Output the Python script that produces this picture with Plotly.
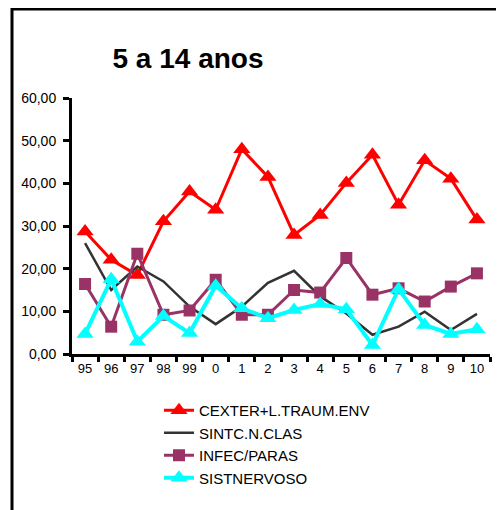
import plotly.graph_objects as go

years = ["95", "96", "97", "98", "99", "0", "1", "2", "3", "4", "5", "6", "7", "8", "9", "10"]
cexter = [28.7, 22.1, 18.5, 31.1, 38.1, 33.8, 48.0, 41.5, 27.9, 32.6, 40.1, 46.7, 35.0, 45.4, 41.1, 31.5]
sintc = [26.0, 15.0, 20.5, 17.0, 11.1, 7.0, 11.1, 16.7, 19.5, 13.5, 9.5, 4.5, 6.4, 9.9, 5.6, 9.4]
infec = [16.4, 6.4, 23.5, 9.2, 10.2, 17.4, 9.2, 9.2, 15.0, 14.4, 22.5, 13.9, 15.4, 12.3, 15.8, 18.9]
sistn = [4.7, 17.5, 2.9, 8.9, 4.9, 16.0, 10.7, 8.4, 10.3, 11.7, 10.5, 2.1, 15.2, 6.8, 4.7, 5.8]
y_ticks = [0, 10, 20, 30, 40, 50, 60]
y_tick_labels = ["0,00", "10,00", "20,00", "30,00", "40,00", "50,00", "60,00"]

# page has an 8px body margin: figure coordinates = screen - 8
W, H = 496, 502
L, R, T, B = 64, 14, 90, 156
PW, PH = W - L - R, H - T - B

fig = go.Figure()
fig.add_trace(go.Scatter(x=years, y=cexter, name="CEXTER+L.TRAUM.ENV", mode="lines+markers",
                         line=dict(color="#FF0000", width=3),
                         marker=dict(symbol="triangle-up", size=15, color="#FF0000")))
fig.add_trace(go.Scatter(x=years, y=sintc, name="SINTC.N.CLAS", mode="lines",
                         line=dict(color="#333333", width=2.5)))
fig.add_trace(go.Scatter(x=years, y=infec, name="INFEC/PARAS", mode="lines+markers",
                         line=dict(color="#993366", width=3),
                         marker=dict(symbol="square", size=12, color="#993366")))
fig.add_trace(go.Scatter(x=years, y=sistn, name="SISTNERVOSO", mode="lines+markers",
                         line=dict(color="#00FFFF", width=4),
                         marker=dict(symbol="triangle-up", size=15, color="#00FFFF")))

fig.update_layout(
    width=W, height=H,
    margin=dict(l=L, r=R, t=T, b=B, autoexpand=False),
    paper_bgcolor="white", plot_bgcolor="white",
    font=dict(family="Liberation Sans", color="black"),
    title=dict(text="<b>5 a 14 anos</b>", x=180 / W, xanchor="center",
               y=1 - 50 / H, yanchor="middle", font=dict(size=28, color="black")),
    showlegend=True,
    legend=dict(x=(151 - L) / PW, y=(T + PH - 386) / PH, xanchor="left", yanchor="top",
                font=dict(size=15, color="black"), bgcolor="rgba(0,0,0,0)",
                tracegroupgap=0),
    xaxis=dict(type="category", range=[-0.5, 15.5], showline=True, linecolor="black", linewidth=3,
               ticks="outside", tickson="boundaries", ticklen=5, tickwidth=3, tickcolor="black",
               showgrid=False, zeroline=False, tickfont=dict(size=13), tickangle=0,
               fixedrange=True),
    yaxis=dict(range=[0, 60], tickvals=y_ticks, ticktext=y_tick_labels, showline=True,
               linecolor="black", linewidth=3, ticks="outside", ticklen=6, tickwidth=3,
               tickcolor="black", showgrid=False, zeroline=False, tickfont=dict(size=14),
               ticklabelstandoff=4, fixedrange=True),
    shapes=[dict(type="rect", xref="paper", yref="paper",
                 x0=(4 - L) / PW, x1=3, y0=-3, y1=(T + PH - 1) / PH,
                 line=dict(color="black", width=3), fillcolor="rgba(0,0,0,0)", layer="below")],
)

fig.write_html("out.html")
